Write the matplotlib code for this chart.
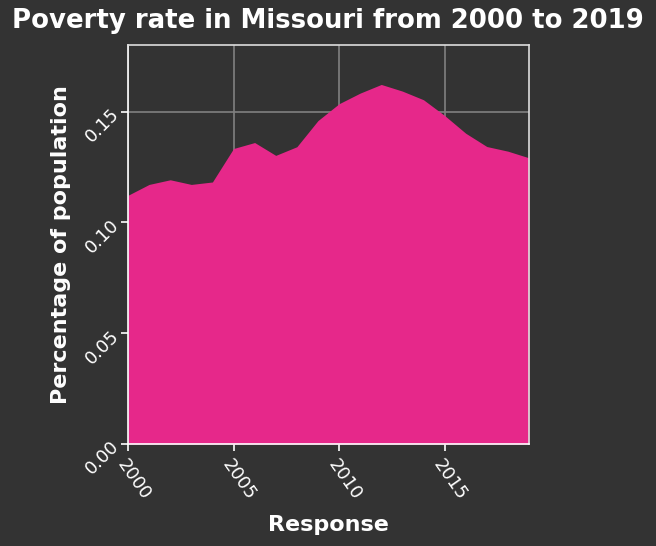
import numpy as np
import matplotlib
matplotlib.use("Agg")
import matplotlib.pyplot as plt

# poverty rate in Missouri
years = list(range(2000, 2020))
rate = [0.1122, 0.1171, 0.1192, 0.1171, 0.1182, 0.1333, 0.1360, 0.1302,
        0.1341, 0.1459, 0.1535, 0.1583, 0.1622, 0.1592, 0.1553, 0.1482,
        0.1402, 0.1342, 0.1321, 0.1291]
xticks = [2000, 2005, 2010, 2015]
yticks = [0.00, 0.05, 0.10, 0.15]

bg = '#333333'
fill_col = '#e6288a'

fig = plt.figure(figsize=(6.56, 5.46), dpi=100)
fig.patch.set_facecolor(bg)
ax = fig.add_axes([128 / 656, 1 - 444 / 546, 401 / 656, 399 / 546])
ax.set_facecolor(bg)

ax.grid(True, color='#808080', lw=1.2)
ax.set_axisbelow(True)
ax.fill_between(years, rate, 0, color=fill_col, lw=0, zorder=2)

ax.set_xlim(2000, 2019)
ax.set_ylim(0, 0.18)
ax.set_xticks(xticks)
ax.set_yticks(yticks)
ax.set_xticklabels([str(x) for x in xticks], rotation=-55, ha='left', va='top',
                   rotation_mode='anchor')
ax.set_yticklabels(['%.2f' % y for y in yticks], rotation=45, ha='right', va='center',
                   rotation_mode='anchor')

for s in ['left', 'bottom']:
    ax.spines[s].set_color('white')
    ax.spines[s].set_linewidth(1.2)
for s in ['top', 'right']:
    ax.spines[s].set_color('#dddddd')
    ax.spines[s].set_linewidth(1.2)
ax.tick_params(colors='white', labelsize=13, length=5, width=1.2)

ax.set_xlabel('Response', color='white', fontsize=16, fontweight='bold', labelpad=8)
ax.set_ylabel('Percentage of population', color='white', fontsize=16,
              fontweight='bold', labelpad=8)
fig.suptitle('Poverty rate in Missouri from 2000 to 2019', color='white',
             fontsize=18.7, fontweight='bold', x=0.5, y=0.985)

fig.savefig('out.png', dpi=100, facecolor=bg)
